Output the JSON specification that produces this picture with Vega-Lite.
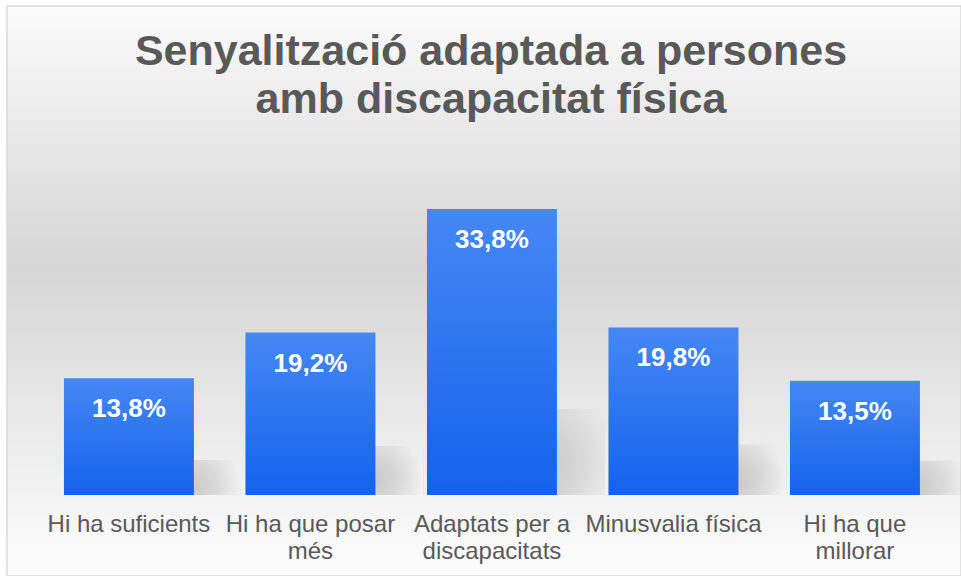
{
  "$schema": "https://vega.github.io/schema/vega-lite/v6.json",
  "autosize": {"type": "none"},
  "padding": {"left": 7, "top": 6, "right": 0, "bottom": 0},
  "width": 954,
  "height": 570,
  "background": "#ffffff",
  "config": {
    "view": {
      "fill": {
        "gradient": "linear",
        "x1": 0, "y1": 0, "x2": 0, "y2": 1,
        "stops": [
          {"offset": 0, "color": "#fbfbfb"},
          {"offset": 0.46, "color": "#d5d5d5"},
          {"offset": 1, "color": "#fdfdfd"}
        ]
      },
      "stroke": "#d9d9d9",
      "strokeWidth": 1.5
    }
  },
  "title": {
    "text": ["Senyalització adaptada a persones", "amb discapacitat física"],
    "font": "Liberation Sans",
    "fontSize": 43,
    "fontWeight": "bold",
    "color": "#595959",
    "baseline": "alphabetic",
    "anchor": "middle",
    "offset": -150,
    "lineHeight": 48,
    "dx": 7
  },
  "data": {
    "values": [
      {"cat": "Hi ha suficients", "pct": 13.8},
      {"cat": "Hi ha que posar més", "pct": 19.2},
      {"cat": "Adaptats per a discapacitats", "pct": 33.8},
      {"cat": "Minusvalia física", "pct": 19.8},
      {"cat": "Hi ha que millorar", "pct": 13.5}
    ]
  },
  "transform": [
    {"calculate": "replace(format(datum.pct, '.1f'), '.', ',') + '%'", "as": "label"}
  ],
  "encoding": {
    "x": {
      "field": "cat",
      "type": "nominal",
      "sort": null,
      "scale": {"paddingInner": 0.284, "paddingOuter": 0.27, "align": 0.581},
      "axis": {
        "title": null,
        "orient": "bottom",
        "offset": -81,
        "domain": false,
        "ticks": false,
        "grid": false,
        "labelAngle": 0,
        "labelFont": "Liberation Sans",
        "labelFontSize": 24,
        "labelColor": "#595959",
        "labelPadding": 17,
        "labelLineHeight": 27,
        "labelLimit": 0,
        "labelOverlap": false,
        "labelBound": false,
        "labelExpr": "datum.value == 'Hi ha que posar més' ? ['Hi ha que posar', 'més'] : datum.value == 'Adaptats per a discapacitats' ? ['Adaptats per a', 'discapacitats'] : datum.value == 'Hi ha que millorar' ? ['Hi ha que', 'millorar'] : datum.value"
      }
    }
  },
  "layer": [
    {
      "mark": {
        "type": "bar",
        "width": 50,
        "xOffset": 88,
        "fill": {
          "gradient": "radial",
          "x1": 0, "y1": 0.72, "r1": 0,
          "x2": 0, "y2": 0.72, "r2": 1,
          "stops": [
            {"offset": 0, "color": "rgba(0,0,0,0.17)"},
            {"offset": 0.45, "color": "rgba(0,0,0,0.11)"},
            {"offset": 1, "color": "rgba(0,0,0,0)"}
          ]
        }
      },
      "encoding": {
        "y": {
          "field": "pct",
          "type": "quantitative",
          "scale": {"domain": [-31.9, 192.6], "nice": false},
          "axis": null
        }
      }
    },
    {
      "encoding": {
        "y": {
          "field": "pct",
          "type": "quantitative",
          "scale": {"domain": [-9.57, 57.79], "nice": false},
          "axis": null
        }
      },
      "layer": [
        {
          "mark": {
            "type": "bar",
            "fill": {
              "gradient": "linear",
              "x1": 0, "y1": 0, "x2": 0, "y2": 1,
              "stops": [
                {"offset": 0, "color": "#4687f4"},
                {"offset": 1, "color": "#1463ec"}
              ]
            }
          }
        },
        {
          "mark": {
            "type": "text",
            "font": "Liberation Sans",
            "fontSize": 26,
            "fontWeight": "bold",
            "color": "#ffffff",
            "baseline": "middle",
            "align": "center",
            "dy": 31
          },
          "encoding": {
            "text": {"field": "label", "type": "nominal"}
          }
        }
      ]
    }
  ],
  "resolve": {"scale": {"y": "independent"}}
}
